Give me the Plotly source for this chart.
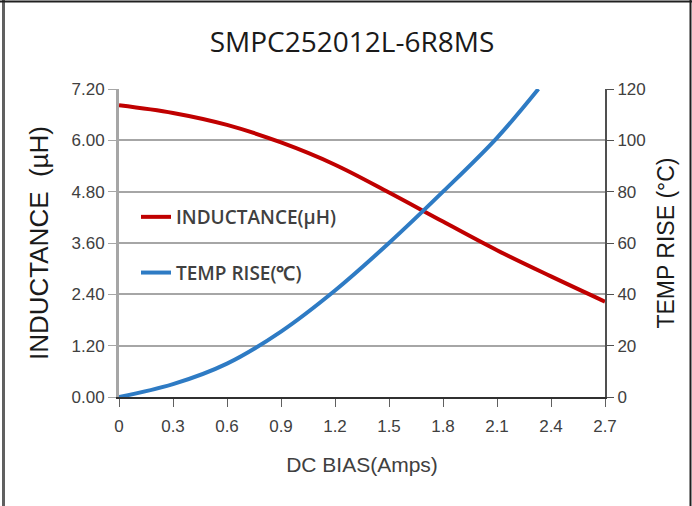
import plotly.graph_objects as go

# Data
bias_ind = [0, 0.3, 0.6, 0.9, 1.2, 1.5, 1.8, 2.1, 2.4, 2.7]
inductance = [6.82, 6.64, 6.36, 5.95, 5.43, 4.78, 4.10, 3.43, 2.82, 2.23]

bias_temp = [0, 0.3, 0.6, 0.9, 1.2, 1.5, 1.8, 2.1, 2.33]
temp_rise = [0, 5, 13, 25.5, 41.5, 60, 80, 101, 120]

x_ticks = [0, 0.3, 0.6, 0.9, 1.2, 1.5, 1.8, 2.1, 2.4, 2.7]
x_tick_labels = ["0", "0.3", "0.6", "0.9", "1.2", "1.5", "1.8", "2.1", "2.4", "2.7"]
y1_ticks = [0, 1.2, 2.4, 3.6, 4.8, 6.0, 7.2]
y1_tick_labels = ["0.00", "1.20", "2.40", "3.60", "4.80", "6.00", "7.20"]
y2_ticks = [0, 20, 40, 60, 80, 100, 120]
y2_tick_labels = ["0", "20", "40", "60", "80", "100", "120"]

W, H = 692, 506
ML, MR, MT, MB = 119, 87, 89, 109
PW, PH = W - ML - MR, H - MT - MB

def px(x):
    return (x - ML) / PW

def py(y):
    return (H - MB - y) / PH

fig = go.Figure()
fig.add_trace(go.Scatter(
    x=bias_ind, y=inductance, mode="lines", name="INDUCTANCE(µH)",
    line=dict(color="#C00000", width=4, shape="spline", smoothing=1.0),
    legendgroup="a", yaxis="y"))
fig.add_trace(go.Scatter(
    x=bias_temp, y=temp_rise, mode="lines", name="TEMP RISE(℃)",
    line=dict(color="#2E7BC4", width=4, shape="spline", smoothing=1.0),
    legendgroup="b", yaxis="y2"))

tick_font = dict(family="Liberation Sans, Arial", size=17, color="#404040")

fig.update_layout(
    width=W, height=H,
    margin=dict(l=ML, r=MR, t=MT, b=MB),
    paper_bgcolor="white", plot_bgcolor="white",
    title=dict(text="SMPC252012L-6R8MS", x=352 / W, xanchor="center",
               y=1 - 42 / H, yanchor="middle",
               font=dict(family="Open Sans", size=28, color="#1a1a1a")),
    xaxis=dict(range=[0, 2.7], tickvals=x_ticks, ticktext=x_tick_labels,
               showgrid=False, zeroline=False, showline=True,
               linecolor="#303030", linewidth=2,
               ticks="outside", ticklen=8, tickcolor="#606060", tickwidth=1,
               ticklabelstandoff=5,
               tickfont=tick_font,
               title=dict(text="DC BIAS(Amps)", standoff=22,
                          font=dict(family="Liberation Sans, Arial", size=21, color="#404040"))),
    yaxis=dict(range=[0, 7.2], tickvals=y1_ticks, ticktext=y1_tick_labels,
               showgrid=True, gridcolor="#A6A6A6", gridwidth=2, zeroline=False,
               showline=True, linecolor="#A6A6A6", linewidth=3,
               ticks="outside", ticklen=8, tickcolor="#A6A6A6", tickwidth=1,
               tickfont=tick_font,
               title=dict(text="INDUCTANCE\u00a0\u00a0(µH)", standoff=16,
                          font=dict(family="Liberation Sans, Arial", size=26, color="#1a1a1a"))),
    yaxis2=dict(range=[0, 120], tickvals=y2_ticks, ticktext=y2_tick_labels,
                overlaying="y", side="right", showgrid=False, zeroline=False,
                showline=True, linecolor="#505050", linewidth=2,
                ticks="outside", ticklen=7, tickcolor="#505050", tickwidth=1,
                tickfont=tick_font,
                title=dict(text="TEMP RISE (°C)", standoff=13,
                           font=dict(family="Liberation Sans, Arial", size=23, color="#1a1a1a"))),
    legend=dict(x=px(136), y=py(198), xanchor="left", yanchor="top",
                bgcolor="rgba(0,0,0,0)", traceorder="grouped", tracegroupgap=28,
                font=dict(family="Open Sans", size=19, color="#404040", weight=600),
                itemwidth=30),
    showlegend=True,
    shapes=[
        dict(type="line", xref="paper", yref="paper", x0=px(3.5), x1=px(3.5),
             y0=py(0), y1=py(H), line=dict(color="#606060", width=3)),
        dict(type="line", xref="paper", yref="paper", x0=px(0), x1=px(W),
             y0=py(1.5), y1=py(1.5), line=dict(color="#202020", width=2)),
        dict(type="line", xref="paper", yref="paper", x0=px(690.5), x1=px(690.5),
             y0=py(0), y1=py(H), line=dict(color="#202020", width=2)),
    ],
)

fig.write_html("out.html", config={"displayModeBar": False},
               post_script="document.body.style.margin='0';document.body.style.overflow='hidden';")
